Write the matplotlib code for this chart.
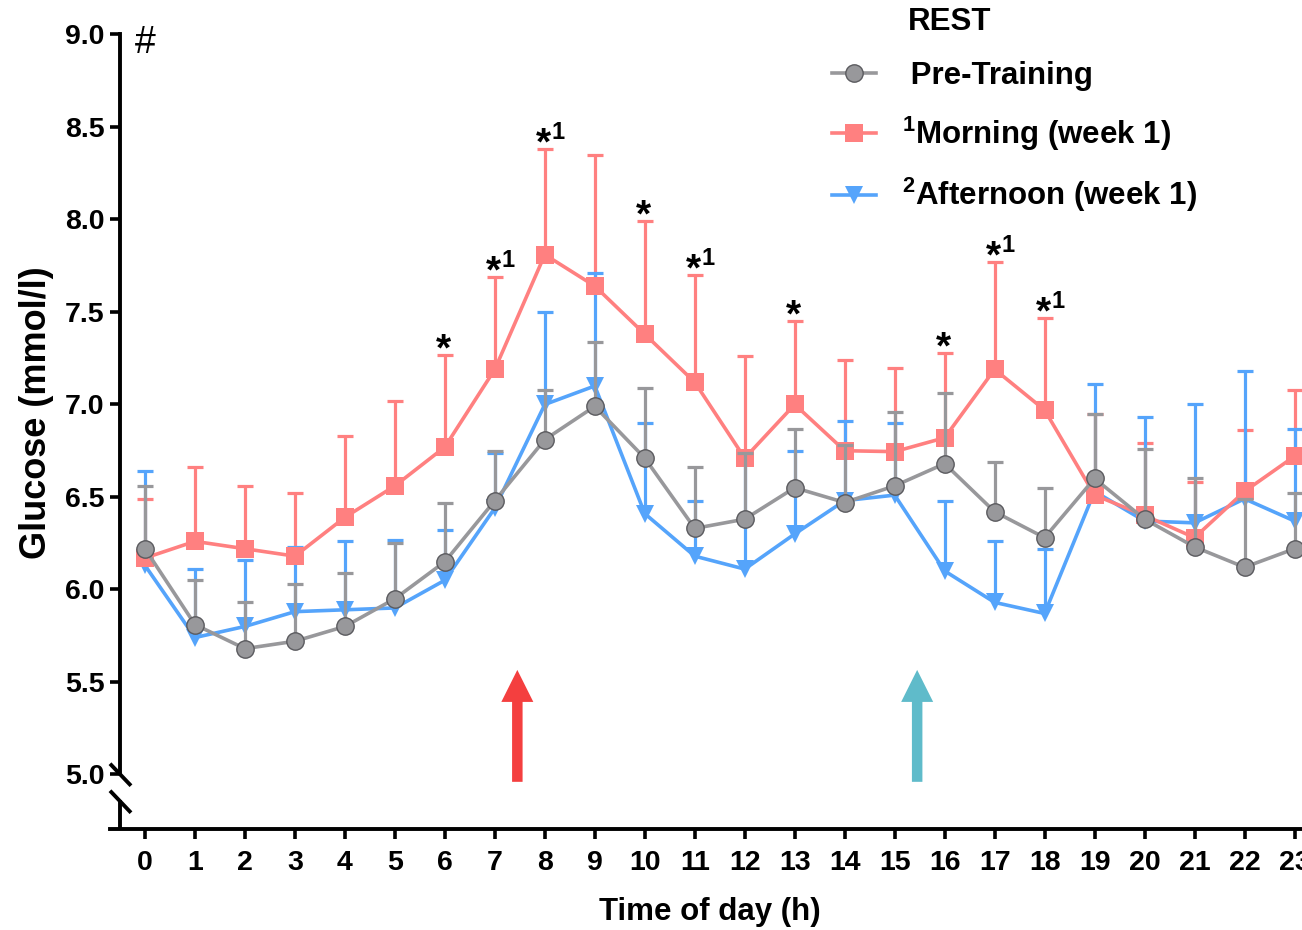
import numpy as np
import matplotlib
matplotlib.use('Agg')
import matplotlib.pyplot as plt
from matplotlib.lines import Line2D

plt.rcParams['font.family'] = 'Liberation Sans'
plt.rcParams['font.weight'] = 'bold'
plt.rcParams['axes.labelweight'] = 'bold'
plt.rcParams['mathtext.fontset'] = 'custom'
plt.rcParams['mathtext.rm'] = 'Liberation Sans:bold'
plt.rcParams['mathtext.bf'] = 'Liberation Sans:bold'
plt.rcParams['mathtext.default'] = 'bf'

# hourly glucose, mean and SD (mmol/l)
hours = np.arange(24)

pre_mean = [6.22, 5.81, 5.68, 5.72, 5.80, 5.95, 6.15, 6.48, 6.81, 6.99, 6.71, 6.33,
            6.38, 6.55, 6.47, 6.56, 6.68, 6.42, 6.28, 6.60, 6.38, 6.23, 6.12, 6.22]
pre_sd = [0.34, 0.24, 0.25, 0.31, 0.29, 0.30, 0.32, 0.27, 0.27, 0.35, 0.38, 0.33,
          0.36, 0.32, 0.31, 0.40, 0.38, 0.27, 0.27, 0.35, 0.38, 0.37, 0.37, 0.30]

morn_mean = [6.17, 6.26, 6.22, 6.18, 6.39, 6.56, 6.77, 7.19, 7.81, 7.64, 7.38, 7.12,
             6.71, 7.00, 6.75, 6.745, 6.82, 7.19, 6.97, 6.51, 6.40, 6.28, 6.53, 6.72]
morn_sd = [0.32, 0.40, 0.34, 0.34, 0.44, 0.46, 0.50, 0.50, 0.57, 0.71, 0.61, 0.58,
           0.55, 0.45, 0.49, 0.45, 0.46, 0.58, 0.50, 0.44, 0.39, 0.30, 0.33, 0.36]

aft_mean = [6.13, 5.74, 5.80, 5.88, 5.89, 5.90, 6.05, 6.44, 7.00, 7.10, 6.41, 6.18,
            6.11, 6.30, 6.48, 6.51, 6.10, 5.93, 5.87, 6.53, 6.37, 6.36, 6.49, 6.37]
aft_sd = [0.51, 0.37, 0.36, 0.35, 0.37, 0.37, 0.27, 0.30, 0.50, 0.61, 0.49, 0.30,
          0.59, 0.45, 0.43, 0.39, 0.38, 0.33, 0.35, 0.58, 0.56, 0.64, 0.69, 0.50]

# significance marks above the morning series
sig_hours = [6, 7, 8, 10, 11, 13, 16, 17, 18]
sig_sup = ['', '1', '1', '', '1', '', '', '1', '1']

# exercise sessions
session_hours = [7.45, 15.45]
session_colors = ['#f43f3f', '#5fbbca']

GRAY = '#98989b'
PINK = '#ff8080'
BLUE = '#55a4fb'

fig = plt.figure(figsize=(13.02, 9.3), dpi=100)
ax = fig.add_axes([110 / 1302, 1 - 829 / 930, 1192 / 1302, (829 - 34.5) / 930])


def draw(mean, sd, color, marker, zbar, zline, mec=None):
    mean = np.asarray(mean)
    sd = np.asarray(sd)
    eb = ax.errorbar(hours, mean, yerr=[np.zeros_like(sd), sd], fmt='none',
                     ecolor=color, elinewidth=2.3, capsize=6, capthick=2.3,
                     zorder=zbar)
    eb[1][0].set_visible(False)
    ax.plot(hours, mean, color=color, lw=2.6, marker=marker, ms=12.5,
            mfc=color, mec=mec if mec else color, mew=1.0 if mec else 0,
            zorder=zline)


draw(morn_mean, morn_sd, PINK, 's', 2, 5)
draw(aft_mean, aft_sd, BLUE, 'v', 3, 4)
draw(pre_mean, pre_sd, GRAY, 'o', 6, 7, mec='#5a5a5e')

# stars over the morning error bars
morn_top = np.asarray(morn_mean) + np.asarray(morn_sd)
for h, sup in zip(sig_hours, sig_sup):
    ax.annotate('*', xy=(h, morn_top[h]), xytext=(-1, -4), textcoords='offset points',
                ha='center', va='baseline', fontsize=28, zorder=8)
    if sup:
        ax.annotate(sup, xy=(h, morn_top[h]), xytext=(5, 7), textcoords='offset points',
                    ha='left', va='baseline', fontsize=17, zorder=8)

ax.text(-0.2, 8.955, '#', fontsize=27, fontweight='normal', ha='left', va='center')

for x, c in zip(session_hours, session_colors):
    ax.arrow(x, 4.96, 0, 0.605, width=0.21, head_width=0.64, head_length=0.173,
             length_includes_head=True, color=c, lw=0, zorder=1)

# axes
ax.set_xlim(-0.7, 23.15)
ax.set_ylim(4.705, 9.0)
ax.set_xticks(hours)
ax.set_yticks(np.arange(5.0, 9.01, 0.5))
ax.set_yticklabels(['%.1f' % v for v in np.arange(5.0, 9.01, 0.5)])
ax.tick_params(axis='both', direction='out', length=7, width=2.6, labelsize=20.5)
ax.tick_params(axis='x', pad=8)
ax.tick_params(axis='y', pad=4)
ax.yaxis.get_major_ticks()[0].tick1line.set_visible(False)

for s in ['top', 'right']:
    ax.spines[s].set_visible(False)
ax.spines['bottom'].set_linewidth(2.8)
ax.spines['left'].set_linewidth(2.8)
ax.spines['left'].set_position(('data', -0.5))
ax.spines['left'].set_bounds(5.008, 9.0)
ax.plot([-0.5, -0.5], [4.705, 4.862], color='black', lw=2.8, clip_on=False,
        solid_capstyle='butt', zorder=9)
# axis break slashes
for y0 in [5.058, 4.912]:
    ax.plot([-0.7, -0.28], [y0, y0 - 0.119], color='black', lw=2.8,
            clip_on=False, solid_capstyle='butt', zorder=9)

ax.set_ylabel('Glucose (mmol/l)', fontsize=26)
ax.yaxis.set_label_coords(-0.047, 0.524)
ax.set_xlabel('Time of day (h)', fontsize=22.5)
ax.xaxis.set_label_coords(0.503, -0.086)

handles = [
    Line2D([], [], color=GRAY, lw=2.6, marker='o', ms=12.5, mfc=GRAY, mec='#5a5a5e', mew=1.0),
    Line2D([], [], color=PINK, lw=2.6, marker='s', ms=12.5, mfc=PINK, mew=0),
    Line2D([], [], color=BLUE, lw=2.6, marker='v', ms=12.5, mfc=BLUE, mew=0),
]
labels = [' Pre-Training', r'$^{1}$Morning (week 1)', r'$^{2}$Afternoon (week 1)']
fig.legend(handles, labels, loc='upper left', bbox_to_anchor=(832 / 1302, 1 - 61 / 930),
           frameon=False, fontsize=22.5, borderpad=0, borderaxespad=0,
           handlelength=1.4, handletextpad=0.85, labelspacing=0.75)
fig.text(908 / 1302, 1 - 22 / 930, 'REST', fontsize=22.5, ha='left', va='center')

fig.savefig('out.png', dpi=100)
